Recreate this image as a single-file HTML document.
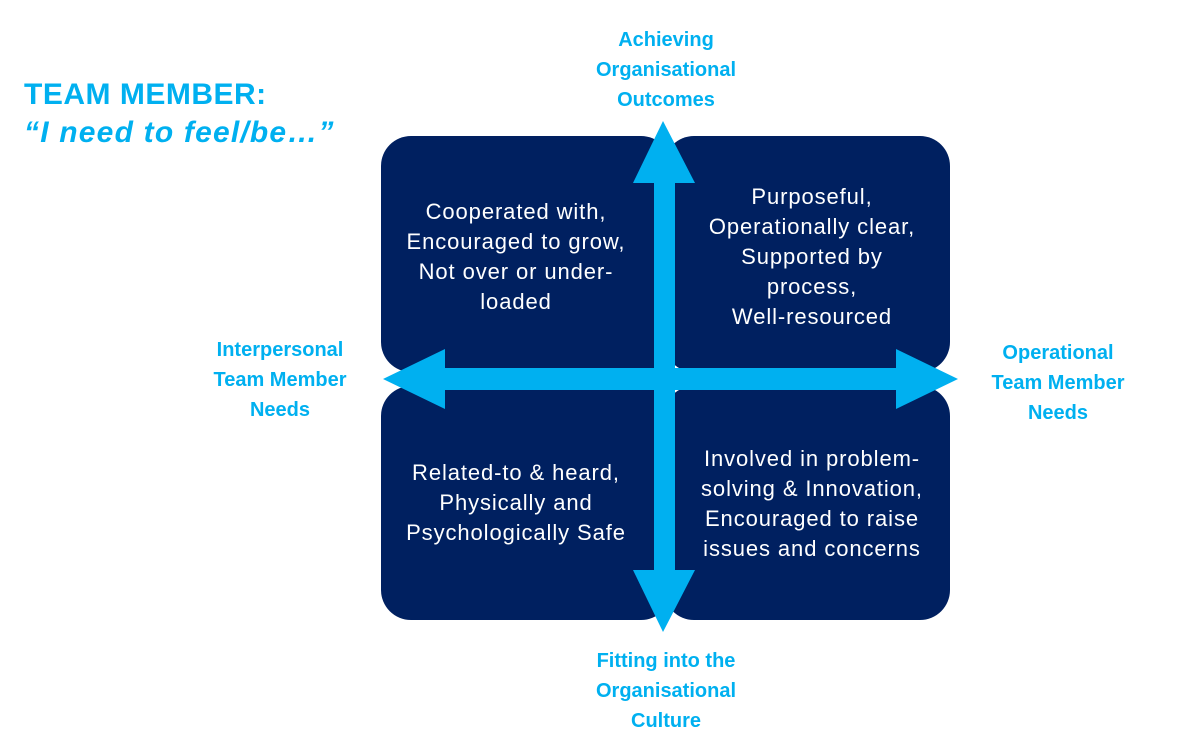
<!DOCTYPE html>
<html><head><meta charset="utf-8"><style>
body{margin:0;width:1180px;height:736px;background:#fff;position:relative;overflow:hidden;font-family:"Liberation Sans",sans-serif}
.box{position:absolute;background:#002060;border-radius:30px;color:#fff;font-size:22px;letter-spacing:0.9px;line-height:30px;text-align:center;display:flex;align-items:center;justify-content:center}
.lbl{position:absolute;color:#00B0F0;font-weight:bold;font-size:20px;line-height:30px;text-align:center}
</style></head><body>
<div class="lbl" style="left:24px;top:76px;text-align:left;font-size:30px;line-height:38px;letter-spacing:0.5px">TEAM MEMBER:<br><i style="letter-spacing:1.2px">“I need to feel/be…”</i></div>
<div class="box" style="left:381px;top:136px;width:290px;height:236px;"><div style="width:260px;margin-right:20px;margin-top:6px">Cooperated with,<br>Encouraged to grow,<br>Not over or under-<br>loaded</div></div>
<div class="box" style="left:664px;top:136px;width:286px;height:236px;"><div style="width:260px;margin-left:10px;margin-top:6px">Purposeful,<br>Operationally clear,<br>Supported by<br>process,<br>Well-resourced</div></div>
<div class="box" style="left:381px;top:386px;width:290px;height:234px;"><div style="width:260px;margin-right:20px">Related-to &amp; heard,<br>Physically and<br>Psychologically Safe</div></div>
<div class="box" style="left:664px;top:386px;width:286px;height:234px;"><div style="width:260px;margin-left:10px;margin-top:2px">Involved in problem-<br>solving &amp; Innovation,<br>Encouraged to raise<br>issues and concerns</div></div>
<svg style="position:absolute;left:0;top:0" width="1180" height="736">
<g fill="#00B0F0">
<rect x="654" y="180" width="21" height="400"/>
<polygon points="663,121 633,183 695,183"/>
<polygon points="663,632 633,570 695,570"/>
<rect x="440" y="368" width="460" height="22"/>
<polygon points="383,379 445,349 445,409"/>
<polygon points="958,379 896,349 896,409"/>
</g></svg>
<div class="lbl" style="left:566px;top:25px;width:200px">Achieving<br>Organisational<br>Outcomes</div>
<div class="lbl" style="left:180px;top:335px;width:200px">Interpersonal<br>Team Member<br>Needs</div>
<div class="lbl" style="left:958px;top:338px;width:200px">Operational<br>Team Member<br>Needs</div>
<div class="lbl" style="left:566px;top:646px;width:200px">Fitting into the<br>Organisational<br>Culture</div>
</body></html>
